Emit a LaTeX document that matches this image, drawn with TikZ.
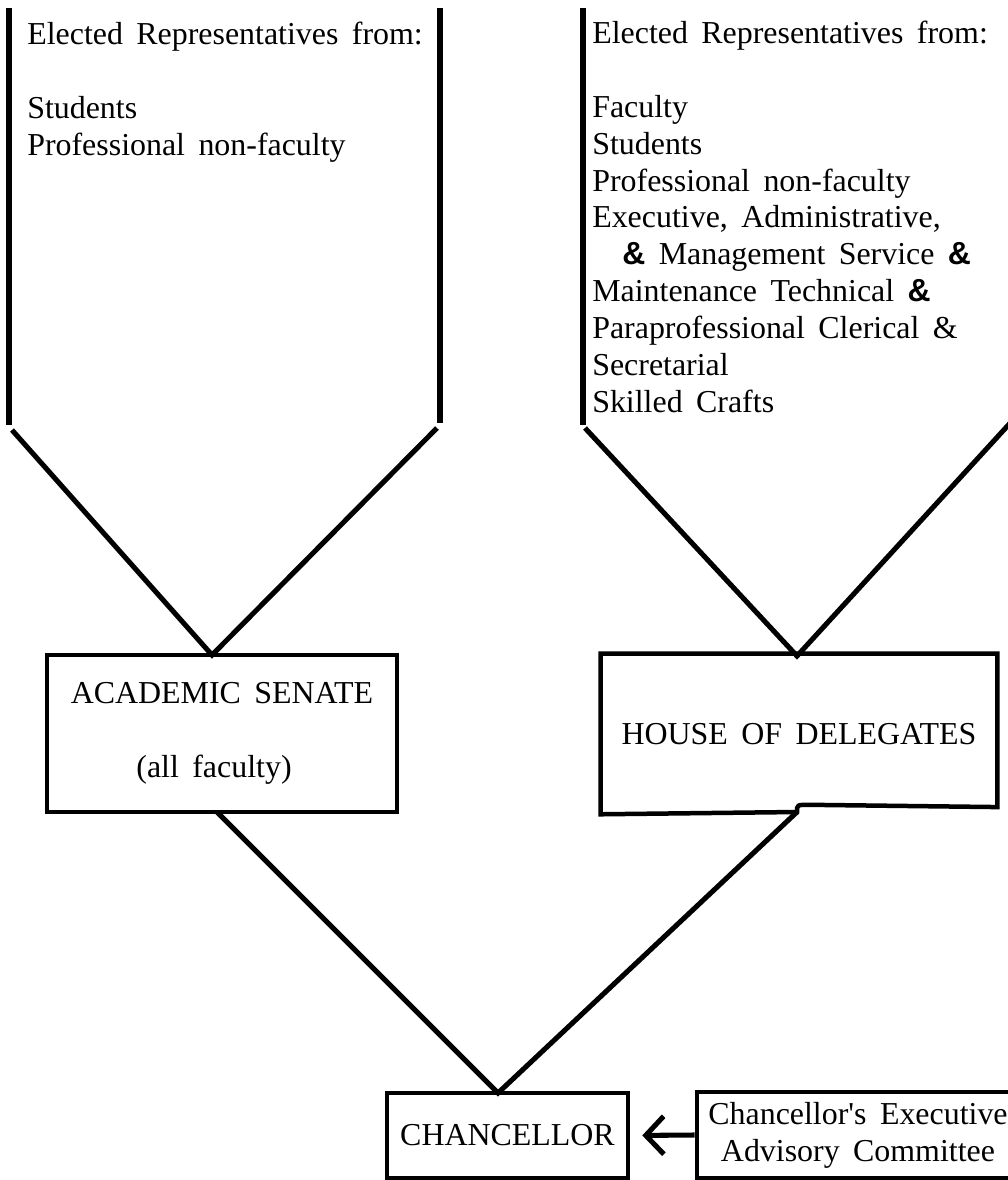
\documentclass[tikz,border=0pt]{standalone}
\usepackage{fontspec}
\setmainfont{Liberation Serif}
\setsansfont{Liberation Sans}
\usetikzlibrary{arrows.meta}
\newcommand{\bigtext}{\fontsize{22.7}{26.2}\selectfont\spaceskip=0.42em plus 0.1em\relax}
\newcommand{\samp}{{\sffamily\bfseries\&}}

\begin{document}
\begin{tikzpicture}[x=0.025cm,y=-0.025cm,
	wall/.style={line width=3.6pt},
	box/.style={draw,line width=3.2pt,inner sep=0,align=center,font=\bigtext},
	list/.style={inner sep=0,anchor=north west,align=left,font=\bigtext}]
		%\draw [help lines] (0,0) grid[step=100] (1008,1180);
		\useasboundingbox (0,0) rectangle (1008,1180);
		\clip (0,0) rectangle (1008,1180);
		%the two columns of representatives
		\node [list] (reps1) at (27,22) {Elected Representatives from:\\[26.2pt]Students\\Professional non-faculty};
		\node [list] (reps2) at (592,21) {Elected Representatives from:\\[26.2pt]Faculty\\Students\\Professional non-faculty\\Executive, Administrative,\\\hspace*{0.75cm}\samp{} Management Service \samp\\Maintenance Technical \samp\\Paraprofessional Clerical \&\\Secretarial\\Skilled Crafts};
		\draw [wall] (9,8) -- (9,425);
		\draw [wall] (440,8) -- (440,423);
		\draw [wall] (583,8) -- (583,425);
		\draw [wall] (1011,8) -- (1011,422);
		%the two bodies
		\node [box,minimum width=8.75cm,minimum height=3.925cm] (senate) at (222,733.5) {ACADEMIC SENATE\\[26.2pt]\hspace*{-0.4cm}(all faculty)};
		\node [box,draw=none,minimum width=9.8cm,minimum height=3.9cm] (house) at (799,734) {HOUSE OF DELEGATES};
		\coordinate (sTop) at (212,655);
		\coordinate (hTop) at (797,656);
		\coordinate (sBot) at (217,812);
		\coordinate (hBot) at (797,812);
		\draw [line width=3.2pt] (house.north west) -- (house.north east) -- ([yshift=0.18cm]house.south east) -- ([xshift=0.3cm,yshift=0.18cm]hBot) .. controls ([yshift=0.18cm]hBot) .. (hBot) -- (house.south west) -- cycle;
		\draw [wall] (12,430) -- (sTop) -- (437,428);
		\draw [wall] (585,428) -- (hTop) -- (1012,421);
		%chancellor and committee
		\node [box,minimum width=6.025cm,minimum height=2.125cm] (chancellor) at (507.5,1135.5) {CHANCELLOR};
		\node [box,minimum width=8.05cm,minimum height=2.15cm] (committee) at (858,1135) {Chancellor\textquotesingle s Executive\\Advisory Committee};
		\coordinate (cTop) at (498,1093);
		\draw [wall] (sBot) -- (cTop) -- (hBot);
		\draw [wall,-{Straight Barb[length=0.45cm,width=0.95cm]},shorten >=0.3cm] (committee.west) -- (chancellor.east);
\end{tikzpicture}
\end{document}
